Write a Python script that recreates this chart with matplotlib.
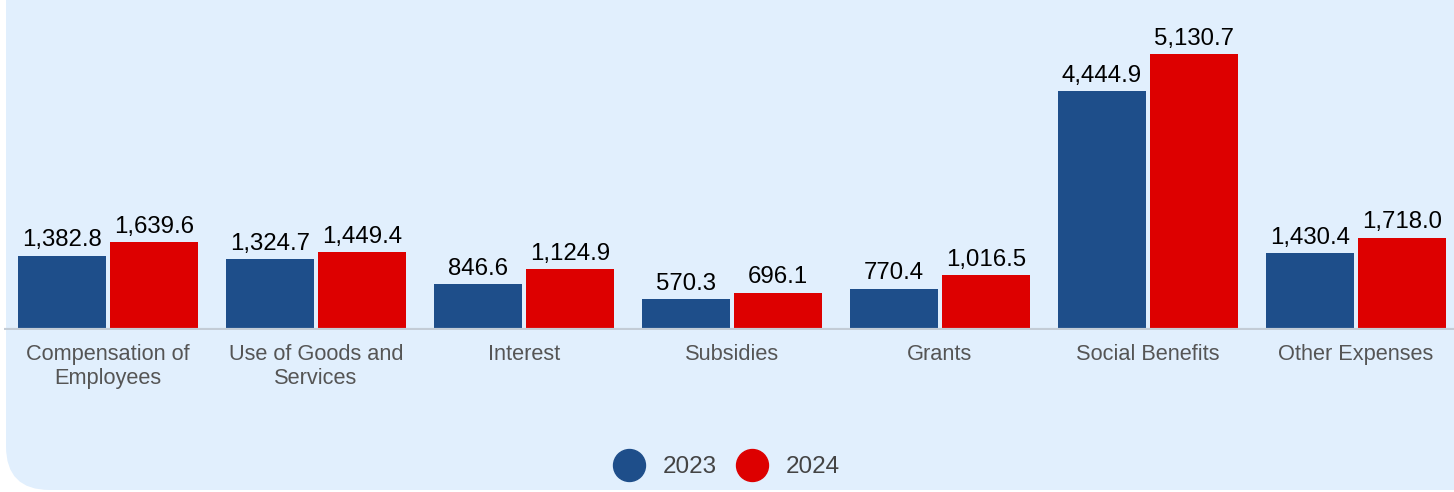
import matplotlib.pyplot as plt
from matplotlib.patches import FancyBboxPatch
from matplotlib.lines import Line2D

plt.rcParams['font.family'] = ['Liberation Sans', 'DejaVu Sans']

categories = ["Compensation of\nEmployees", "Use of Goods and\nServices", "Interest",
              "Subsidies", "Grants", "Social Benefits", "Other Expenses"]
values_2023 = [1382.8, 1324.7, 846.6, 570.3, 770.4, 4444.9, 1430.4]
values_2024 = [1639.6, 1449.4, 1124.9, 696.1, 1016.5, 5130.7, 1718.0]
years = ["2023", "2024"]

blue = "#1E4E8A"
red = "#DD0000"
bg = "#E1EFFD"

fig = plt.figure(figsize=(14.54, 4.92), dpi=100, facecolor="white")

# rounded background panel
panel = FancyBboxPatch((6 / 1454, 2 / 492), 1.2, 1.2, boxstyle="round,pad=0,rounding_size=0.03",
                       transform=fig.transFigure, facecolor=bg, edgecolor="none",
                       mutation_aspect=1454 / 492, zorder=-5)
fig.patches.append(panel)

ax = fig.add_axes([4 / 1454, 162 / 492, 1456 / 1454, 322.8 / 492])
ax.set_facecolor("none")

x = list(range(len(categories)))
w = 0.423
off = 0.221
b1 = ax.bar([i - off for i in x], values_2023, width=w, color=blue, zorder=2)
b2 = ax.bar([i + off for i in x], values_2024, width=w, color=red, zorder=2)

for bars, vals in ((b1, values_2023), (b2, values_2024)):
    for rect, v in zip(bars, vals):
        ax.annotate(f"{v:,.1f}", (rect.get_x() + rect.get_width() / 2, v),
                    xytext=(0, 3), textcoords="offset points", ha="center", va="bottom",
                    fontsize=17.3, color="#000000")

ax.set_xlim(-0.5, len(categories) - 0.5)
ax.set_ylim(0, 6000)
ax.axhline(0, color="#C3CCD6", lw=3, zorder=3)
for s in ax.spines.values():
    s.set_visible(False)
ax.set_yticks([])
ax.set_xticks(x)
ax.set_xticklabels(categories, fontsize=15.7, color="#555555", linespacing=1.2)
ax.tick_params(axis="x", length=0, pad=10)

handles = [Line2D([], [], marker="o", ls="none", markersize=23, color=c) for c in (blue, red)]
fig.legend(handles, years, loc="center", bbox_to_anchor=(727 / 1454, 1 - 467 / 492),
           ncol=2, frameon=False, fontsize=17.5, labelcolor="#444444",
           handletextpad=0.8, columnspacing=0.85, handlelength=1.2)

fig.savefig("out.png", dpi=100, facecolor="white")
